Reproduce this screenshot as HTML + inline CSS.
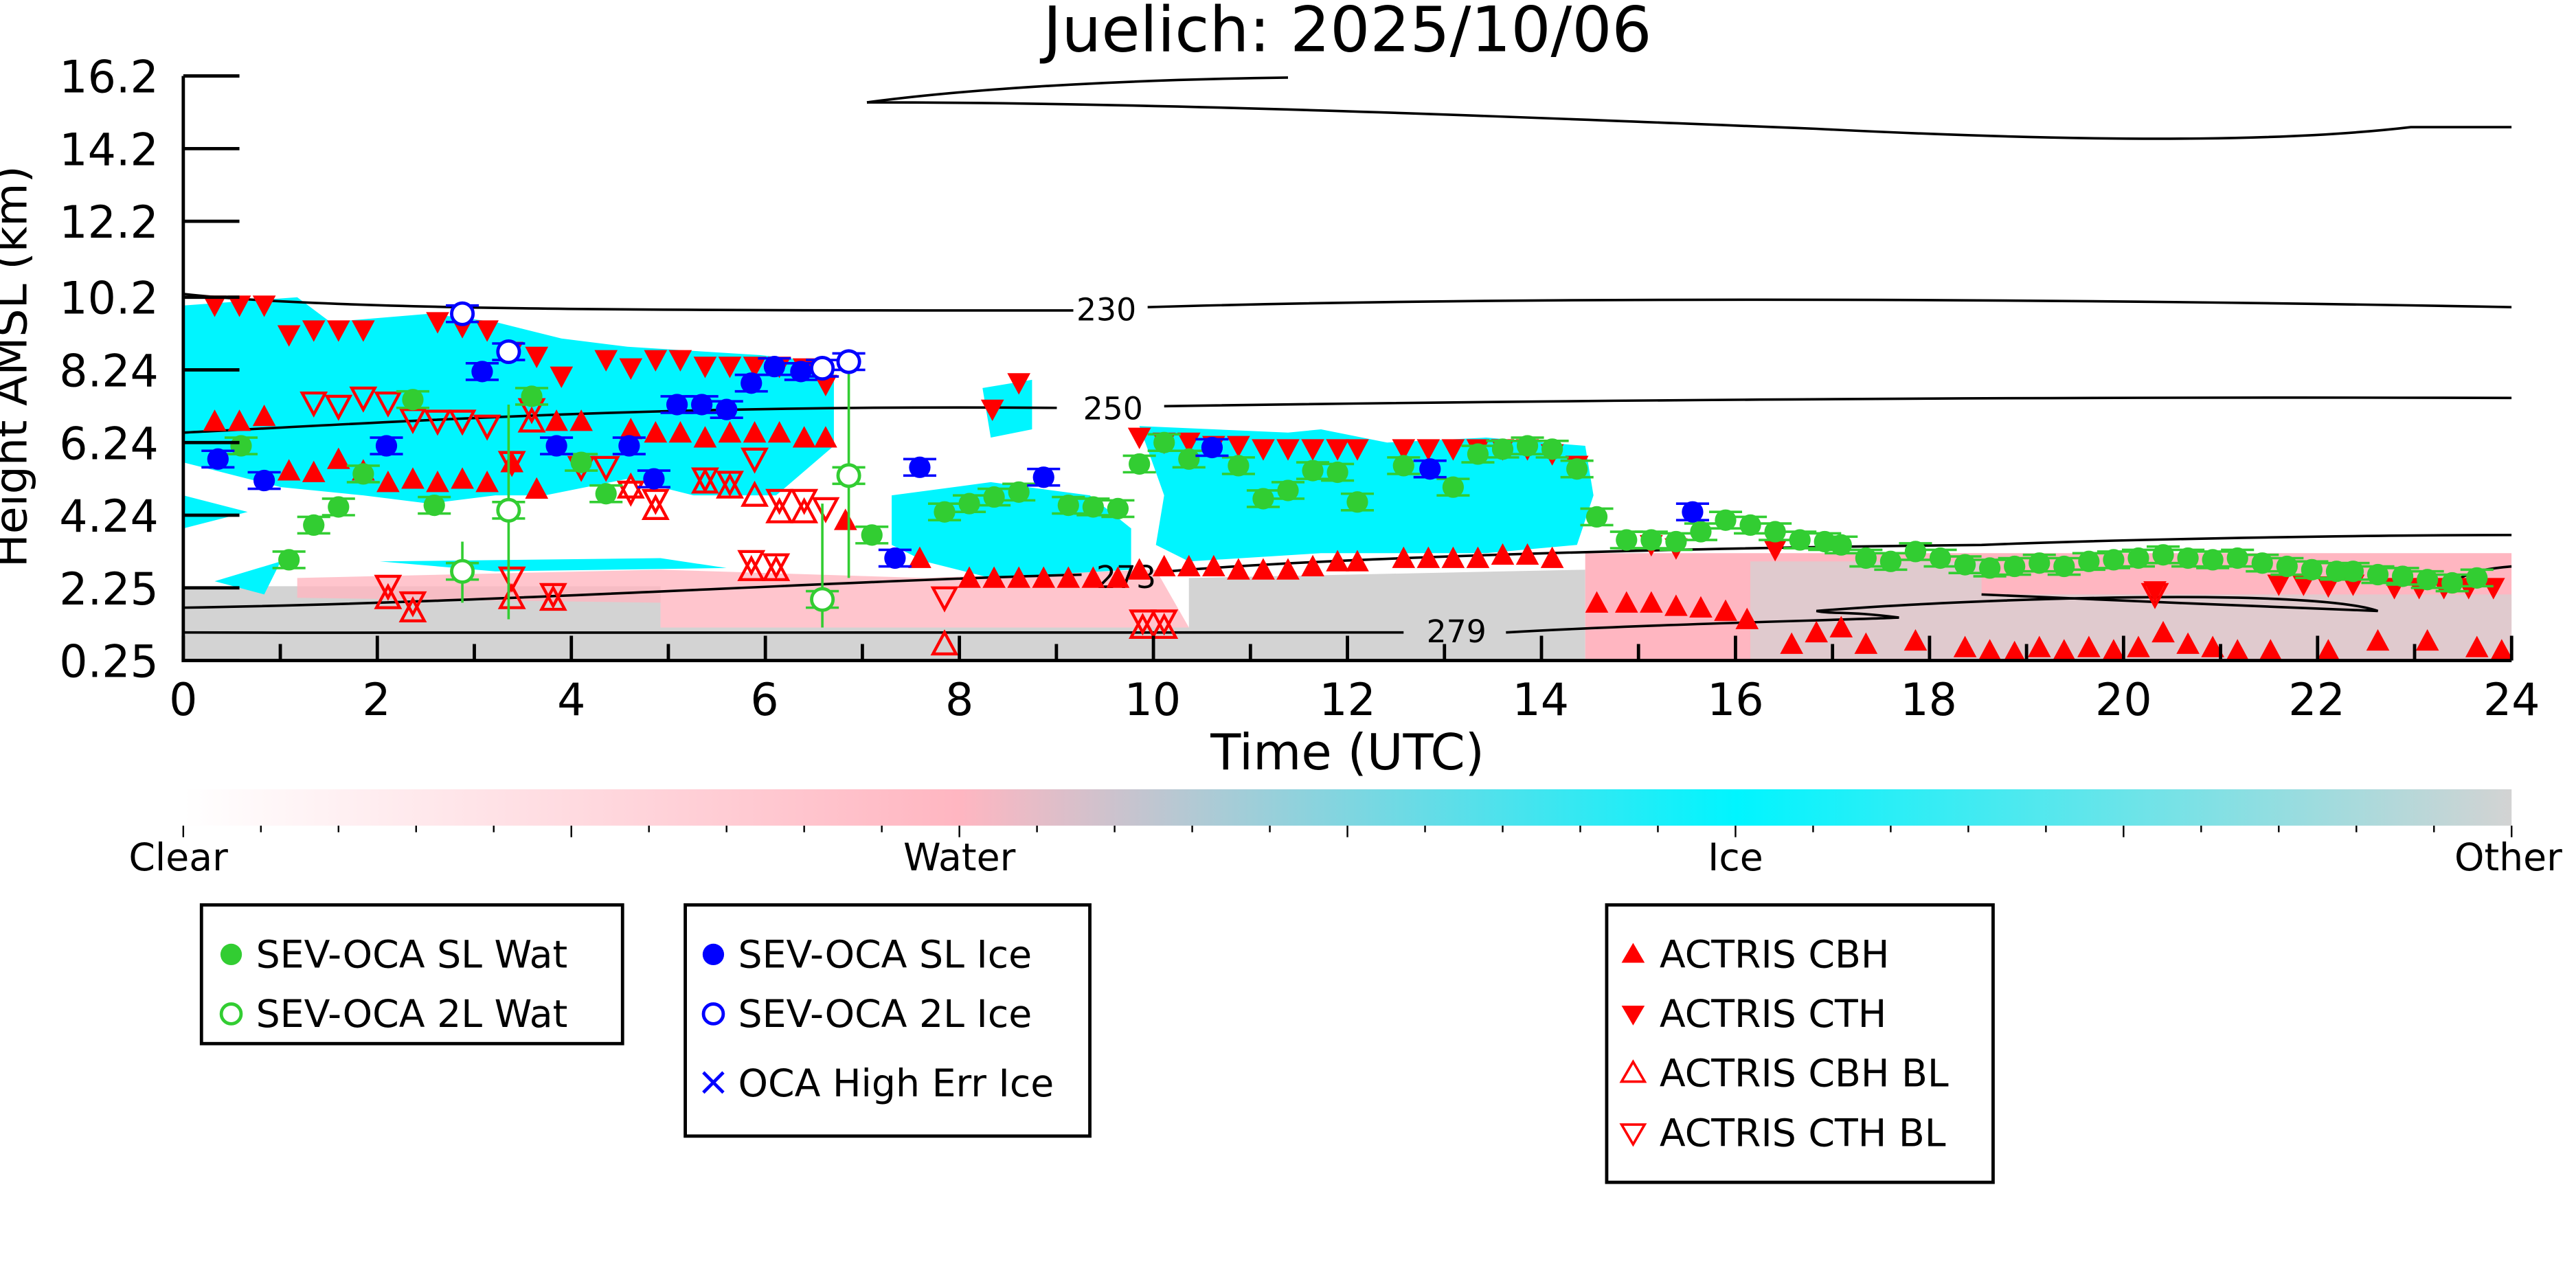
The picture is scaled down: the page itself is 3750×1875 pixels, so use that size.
<!DOCTYPE html>
<html><head><meta charset="utf-8"><style>
html,body{margin:0;padding:0;background:#fff;}
svg{display:block;}
text{font-family:"DejaVu Sans","Liberation Sans",sans-serif;}
</style></head><body>
<svg id="s" width="3750" height="1875" viewBox="0 0 1560 780" xmlns="http://www.w3.org/2000/svg">
<defs>
<linearGradient id="cb" x1="0" x2="1" y1="0" y2="0">
<stop offset="0" stop-color="#ffffff"/><stop offset="0.333" stop-color="#ffb6c1"/>
<stop offset="0.667" stop-color="#00f5ff"/><stop offset="1" stop-color="#d3d3d3"/>
</linearGradient>
<clipPath id="pc"><rect x="111" y="46" width="1410" height="354"/></clipPath>
</defs>
<rect width="1560" height="780" fill="#fff"/>
<g clip-path="url(#pc)">
<polygon points="111,355 400,355 400,380 720,380 720,350 960,345 960,400 111,400" fill="#d3d3d3"/>
<polygon points="960,335 1521,335 1521,400 960,400" fill="#ffb6c1"/>
<polygon points="1060,340 1200,340 1200,360 1521,360 1521,400 1060,400" fill="#d3d3d3" opacity="0.7"/>
<polygon points="180,350 400,345 560,350 700,345 720,380 400,380 400,365 180,362" fill="#ffb6c1" opacity="0.8"/>
<polygon points="111,185 180,180 200,195 260,190 300,195 340,205 380,210 460,215 505,220 505,270 470,300 420,300 380,290 330,300 300,300 260,305 220,300 170,295 111,280" fill="#00f5ff"/>
<polygon points="111,300 150,310 111,320" fill="#00f5ff"/>
<polygon points="540,300 600,292 660,300 685,320 685,345 600,350 560,340 540,330" fill="#00f5ff"/>
<polygon points="595,235 625,230 625,260 600,265" fill="#00f5ff"/>
<polygon points="690,258 780,262 800,260 840,268 900,265 960,270 965,300 955,330 900,335 800,335 720,340 700,330 705,300" fill="#00f5ff"/>
<polygon points="230,340 400,338 440,344 300,346" fill="#00f5ff"/>
<polygon points="130,352 170,340 160,360" fill="#00f5ff"/>
<g fill="none" stroke="#000" stroke-width="1.5">
<path d="M111,178 C200,188 400,188 650,188 M695,186 C900,180 1200,180 1521,186"/>
<path d="M111,262 C250,255 400,245 640,247 M705,246 C900,243 1200,240 1521,241"/>
<path d="M111,368 C300,365 500,352 655,348 M708,346 C800,338 1000,332 1200,330 C1300,326 1450,324 1521,324"/>
<path d="M111,383 C400,384 700,381 850,383 M912,383 C1000,378 1100,376 1150,374 C1120,370 1110,372 1100,370 C1200,362 1400,356 1440,370 C1380,368 1250,362 1200,360 M1490,350 C1500,345 1510,344 1521,343"/>
<path d="M525,62 C700,62 900,70 1100,78 C1300,88 1400,84 1460,77 L1521,77"/>
<path d="M525,62 C600,52 700,48 780,47"/>
</g>
<g font-size="19" text-anchor="middle">
<text x="670" y="194">230</text><text x="674" y="254">250</text>
<text x="682" y="356">273</text><text x="882" y="389">279</text>
</g>
<g id="marks"></g>
</g>
<g stroke="#000" stroke-width="2" fill="none">
<line x1="111" y1="46" x2="111" y2="401"/><line x1="110" y1="400" x2="1521" y2="400"/>
</g>
<g id="ticks" stroke="#000" stroke-width="2"></g>
<g font-size="27" text-anchor="end">
<text x="96" y="56">16.2</text><text x="96" y="100">14.2</text><text x="96" y="144">12.2</text>
<text x="96" y="190">10.2</text><text x="96" y="234">8.24</text><text x="96" y="278">6.24</text>
<text x="96" y="322">4.24</text><text x="96" y="366">2.25</text><text x="96" y="410">0.25</text>
</g>
<g font-size="27" text-anchor="middle">
<text x="111" y="433">0</text><text x="228" y="433">2</text><text x="346" y="433">4</text>
<text x="463" y="433">6</text><text x="581" y="433">8</text><text x="698" y="433">10</text>
<text x="816" y="433">12</text><text x="933" y="433">14</text><text x="1051" y="433">16</text>
<text x="1168" y="433">18</text><text x="1286" y="433">20</text><text x="1403" y="433">22</text>
<text x="1521" y="433">24</text>
<text x="816" y="466" font-size="30">Time (UTC)</text>
<text x="816" y="31" font-size="38">Juelich: 2025/10/06</text>
<text transform="translate(16,222) rotate(-90)" font-size="27">Height AMSL (km)</text>
</g>
<rect x="111" y="478" width="1410" height="22" fill="url(#cb)"/>
<g id="cbt" stroke="#000" stroke-width="1"></g>
<g font-size="23" text-anchor="middle">
<text x="108" y="527">Clear</text><text x="581" y="527">Water</text>
<text x="1051" y="527">Ice</text><text x="1519" y="527">Other</text>
</g>
<g fill="none" stroke="#000" stroke-width="2">
<rect x="122" y="548" width="255" height="84"/><rect x="415" y="548" width="245" height="140"/>
<rect x="973" y="548" width="234" height="168"/>
</g>
<g font-size="23">
<circle cx="140" cy="578" r="6.5" fill="#32cd32"/><text x="155" y="586">SEV-OCA SL Wat</text>
<circle cx="140" cy="614" r="6" fill="none" stroke="#32cd32" stroke-width="2"/><text x="155" y="622">SEV-OCA 2L Wat</text>
<circle cx="432" cy="578" r="6.5" fill="#0000ff"/><text x="447" y="586">SEV-OCA SL Ice</text>
<circle cx="432" cy="614" r="6" fill="none" stroke="#0000ff" stroke-width="2"/><text x="447" y="622">SEV-OCA 2L Ice</text>
<text x="432" y="663" text-anchor="middle" fill="#0000ff" font-size="24">×</text><text x="447" y="664">OCA High Err Ice</text>
<polygon points="989,571 982,583 996,583" fill="#f00"/><text x="1005" y="586">ACTRIS CBH</text>
<polygon points="989,621 982,609 996,609" fill="#f00"/><text x="1005" y="622">ACTRIS CTH</text>
<polygon points="989,643 982,655 996,655" fill="none" stroke="#f00" stroke-width="1.5"/><text x="1005" y="658">ACTRIS CBH BL</text>
<polygon points="989,693 982,681 996,681" fill="none" stroke="#f00" stroke-width="1.5"/><text x="1005" y="694">ACTRIS CTH BL</text>
</g>
<script>
var NS="http://www.w3.org/2000/svg";
function el(p,t,a){var e=document.createElementNS(NS,t);for(var k in a)e.setAttribute(k,a[k]);p.appendChild(e);return e;}
var T=document.getElementById("ticks");
[46,90,134,180,224,268,312,356,400].forEach(function(y){el(T,"line",{x1:111,x2:145,y1:y,y2:y});});
for(var h=0;h<=24;h++){var x=111+h*58.75;el(T,"line",{x1:x,x2:x,y1:400,y2:h%2?390:385});}
var C=document.getElementById("cbt");
for(var i=0;i<=30;i++){var x=111+i*47;el(C,"line",{x1:x,x2:x,y1:500,y2:i%5?504:507});}
var M=document.getElementById("marks");
function up(x,y,f){el(M,"polygon",{points:(x)+","+(y-7)+" "+(x-7)+","+(y+6)+" "+(x+7)+","+(y+6),fill:f?"#f00":"none",stroke:"#f00","stroke-width":f?0:1.8});}
function dn(x,y,f){el(M,"polygon",{points:(x)+","+(y+7)+" "+(x-7)+","+(y-6)+" "+(x+7)+","+(y-6),fill:f?"#f00":"none",stroke:"#f00","stroke-width":f?0:1.8});}
[[130,185],[145,185],[160,185],[175,203],[190,200],[205,200],[220,200],[265,195],[280,198],[295,200],[310,213],[325,216],[340,228],[367,218],[382,223],[397,218],[412,218],[427,222],[442,222],[457,222],[472,222],[487,223],[500,233],[601,248],[617,232],[690,265],[705,268],[720,268],[735,270],[750,270],[765,272],[780,272],[795,272],[810,272],[822,272],[850,272],[865,272],[880,272],[895,272],[910,272],[925,272],[940,275],[955,282],[1000,330],[1015,332],[1075,333],[1305,358],[1380,354],[1395,354],[1410,355],[1425,354],[1450,356],[1465,356],[1480,356],[1495,356],[1510,356]].forEach(function(p){dn(p[0],p[1],1);});
[[130,255],[145,255],[160,252],[175,285],[190,286],[205,278],[220,285],[235,292],[250,290],[265,292],[280,290],[295,292],[310,280],[325,296],[337,255],[352,255],[382,260],[397,262],[412,262],[427,265],[442,262],[457,262],[472,262],[487,265],[500,265],[512,315],[557,338],[587,350],[602,350],[617,350],[632,350],[647,350],[662,350],[677,350],[690,345],[705,343],[720,343],[735,343],[750,345],[765,345],[780,345],[795,343],[810,340],[822,340],[850,338],[865,338],[880,338],[895,338],[910,336],[925,336],[940,338],[967,365],[985,365],[1000,365],[1015,367],[1030,368],[1045,370],[1058,375],[1085,390],[1100,383],[1115,380],[1130,390],[1160,388],[1190,392],[1205,394],[1220,395],[1235,392],[1250,394],[1265,392],[1280,394],[1295,392],[1310,383],[1325,390],[1340,392],[1355,394],[1375,394],[1410,394],[1440,388],[1470,388],[1500,392],[1515,394]].forEach(function(p){up(p[0],p[1],1);});
[[190,244],[205,246],[220,241],[235,244],[250,254],[265,255],[280,255],[295,258],[310,280],[322,248],[352,283],[367,283],[382,298],[397,303],[427,290],[442,292],[457,278],[472,303],[487,303],[500,308],[235,355],[250,365],[310,350],[335,360],[455,340],[470,342],[572,362],[692,376],[705,376],[1305,360]].forEach(function(p){dn(p[0],p[1],0);});
[[235,362],[250,370],[310,362],[335,363],[322,255],[382,295],[397,308],[427,292],[442,295],[457,300],[472,310],[487,310],[455,345],[470,345],[572,390],[692,380],[705,380]].forEach(function(p){up(p[0],p[1],0);});
function errb(x,y,c,w){el(M,"line",{x1:x-w,x2:x+w,y1:y-5,y2:y-5,stroke:c,"stroke-width":1.5});el(M,"line",{x1:x-w,x2:x+w,y1:y+5,y2:y+5,stroke:c,"stroke-width":1.5});}
function dot(x,y,c,f){errb(x,y,c,10);el(M,"circle",{cx:x,cy:y,r:6.5,fill:f?c:"#fff",stroke:c,"stroke-width":f?0:2});}
var G="#32cd32",B="#0000ff";
el(M,"line",{x1:308,x2:308,y1:245,y2:375,stroke:G,"stroke-width":1.5});
el(M,"line",{x1:514,x2:514,y1:222,y2:350,stroke:G,"stroke-width":1.5});
el(M,"line",{x1:498,x2:498,y1:305,y2:380,stroke:G,"stroke-width":1.5});
el(M,"line",{x1:280,x2:280,y1:328,y2:365,stroke:G,"stroke-width":1.5});
[[146,270],[175,339],[190,318],[205,307],[220,287],[250,242],[263,306],[322,240],[352,280],[367,299],[528,324],[572,310],[587,305],[602,301],[617,298],[647,306],[662,307],[677,308],[690,281],[705,268],[720,278],[750,282],[765,302],[780,297],[795,285],[810,286],[822,304],[850,282],[880,295],[895,275],[910,272],[925,270],[940,272],[955,284],[967,313],[985,327],[1000,327],[1015,328],[1030,322],[1045,315],[1060,318],[1075,322],[1090,327],[1105,328],[1115,330],[1130,338],[1145,340],[1160,334],[1175,338],[1190,342],[1205,344],[1220,343],[1235,341],[1250,343],[1265,340],[1280,339],[1295,338],[1310,336],[1325,338],[1340,339],[1355,338],[1370,341],[1385,343],[1400,345],[1415,346],[1425,346],[1440,348],[1455,349],[1470,351],[1485,353],[1500,350]].forEach(function(p){dot(p[0],p[1],G,1);});
[[280,346],[308,309],[498,363],[514,288]].forEach(function(p){dot(p[0],p[1],G,0);});
[[132,278],[160,291],[234,270],[292,225],[337,270],[381,270],[396,290],[410,245],[425,245],[440,248],[455,232],[469,222],[485,225],[542,338],[557,283],[632,289],[734,271],[866,284],[1025,310]].forEach(function(p){dot(p[0],p[1],B,1);});
[[280,190],[308,213],[498,223],[514,219]].forEach(function(p){dot(p[0],p[1],B,0);});
</script>
</svg>
</body></html>
